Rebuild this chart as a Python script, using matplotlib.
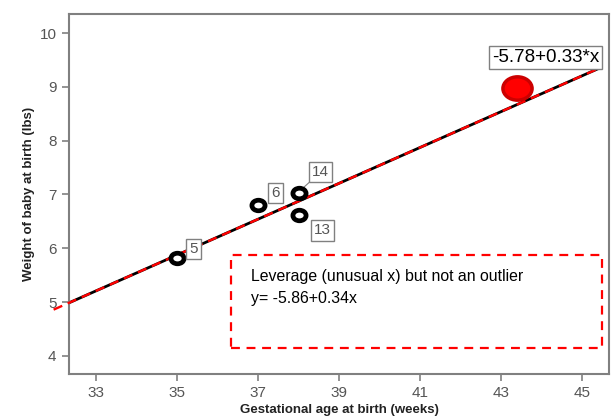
import matplotlib
matplotlib.use("Agg")
import matplotlib.pyplot as plt
import numpy as np
from matplotlib.path import Path
from matplotlib.transforms import Affine2D
from matplotlib.patches import Rectangle

plt.rcParams["font.family"] = ["Liberation Sans", "DejaVu Sans"]

# data
ages = [35, 37, 38, 38]
weights = [5.82, 6.81, 7.03, 6.62]
case_ids = ["5", "6", "14", "13"]
label_pos = [(35.3, 5.98), (37.32, 7.02), (38.33, 7.42), (38.38, 6.33)]
lev_age = [43.4]
lev_weight = [8.98]

fit_all = (-5.78, 0.333)      # label shows -5.78+0.33*x
fit_all_text = "-5.78+0.33*x"
fit_x_range = (32.33, 45.4)
fit_wo = (-5.78, 0.333)
fit_wo_range = (31.95, 45.4)
note_lines = ["Leverage (unusual x) but not an outlier", "y= -5.86+0.34x"]

GRAY = "#808080"
TXT = "#555555"

fig = plt.figure(figsize=(6.16, 4.17), dpi=100)
ax = fig.add_axes([0.112, 0.104, 0.877, 0.862])
ax.set_xlim(32.33, 45.67)
ax.set_ylim(3.67, 10.35)

xs = np.array(fit_x_range)
ax.plot(xs, fit_all[0] + fit_all[1] * xs, color="black", lw=2.0, zorder=2)
xr = np.array(fit_wo_range)
ax.plot(xr, fit_wo[0] + fit_wo[1] * xr, color="red", lw=1.7, ls=(0, (4, 2.5)),
        zorder=3, clip_on=False)

ell = Path.unit_circle().transformed(Affine2D().scale(1.25, 1.0))
ax.plot(ages, weights, marker=ell, ls="none", ms=9.5, mfc="white", mec="black",
        mew=3.4, zorder=4)
ax.plot(lev_age, lev_weight, marker=ell, ls="none", ms=21, mfc="red",
        mec="#cc0000", mew=2.5, zorder=4)

for (lx, ly), cid in zip(label_pos, case_ids):
    ax.text(lx, ly, cid, fontsize=11, color=TXT, ha="left", va="center",
            bbox=dict(boxstyle="square,pad=0.2", fc="white", ec=GRAY, lw=1), zorder=5)
ax.plot([38.05, 38.33], [7.08, 7.27], color=GRAY, lw=0.8, zorder=3)

ax.text(44.1, 9.54, fit_all_text, fontsize=13.5, color="black", ha="center", va="center",
        bbox=dict(boxstyle="square,pad=0.15", fc="white", ec=GRAY, lw=1), zorder=5)

ax.add_patch(Rectangle((36.33, 4.15), 9.16, 1.72, fill=False, ec="red", lw=1.6,
                       ls=(0, (4, 3)), zorder=3))
ax.text(36.82, 5.47, note_lines[0], fontsize=11.4, color="black", va="center")
ax.text(36.82, 5.07, note_lines[1], fontsize=11.4, color="black", va="center")

ax.set_xticks([33, 35, 37, 39, 41, 43, 45])
ax.set_yticks([4, 5, 6, 7, 8, 9, 10])
ax.tick_params(direction="out", length=5, width=1.2, color=GRAY, labelcolor=TXT,
               labelsize=11, pad=4)
for s in ax.spines.values():
    s.set_color(GRAY)
    s.set_linewidth(1.5)

ax.set_xlabel("Gestational age at birth (weeks)", fontsize=9.5, fontweight="bold",
              color="#222222", labelpad=3)
ax.set_ylabel("Weight of baby at birth (lbs)", fontsize=9.5, fontweight="bold",
              color="#222222", labelpad=3)

fig.savefig("out.png", dpi=100)
